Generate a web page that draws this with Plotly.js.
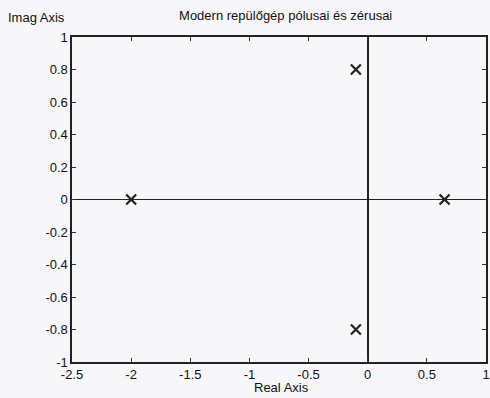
<!DOCTYPE html>
<html><head><meta charset="utf-8">
<script src="https://cdn.plot.ly/plotly-3.0.1.min.js"></script>
<style>body{margin:0;background:#f7f7f9}</style>
</head><body>
<div id="chart" style="width:490px;height:398px"></div>
<script>
const poleReal = [-2.0, 0.65, -0.1, -0.1];
const poleImag = [0, 0, 0.8, -0.8];
const xTicks = [-2.5, -2, -1.5, -1, -0.5, 0, 0.5, 1];
const yTicks = [-1, -0.8, -0.6, -0.4, -0.2, 0, 0.2, 0.4, 0.6, 0.8, 1];
const titleText = 'Modern repülőgép pólusai és zérusai';

const fontFam = 'Liberation Sans, Arial, sans-serif';
const txtColor = '#111';
const trace = {
  x: poleReal, y: poleImag, type: 'scatter', mode: 'markers',
  marker: {symbol: 'x-thin-open', size: 10, color: '#222', line: {width: 2.2, color: '#222'}},
  hoverinfo: 'none', showlegend: false
};
const axisCommon = {
  showgrid: false, zeroline: true, zerolinecolor: '#222', zerolinewidth: 1.8,
  showline: true, linecolor: '#222', linewidth: 1.6, mirror: 'ticks',
  ticks: 'inside', ticklen: 4, tickcolor: '#333', tickwidth: 1,
  tickfont: {family: fontFam, size: 13, color: txtColor}
};
const layout = {
  width: 490, height: 398,
  paper_bgcolor: '#f7f7f9', plot_bgcolor: '#f7f7f9',
  margin: {l: 72, r: 4, t: 37, b: 36},
  title: {text: titleText, font: {family: fontFam, size: 13, color: txtColor}, x: 0.583, xanchor: 'center', y: 0.96, yanchor: 'middle'},
  xaxis: Object.assign({}, axisCommon, {range: [-2.5, 1], tickvals: xTicks, ticktext: xTicks.map(String)}),
  yaxis: Object.assign({}, axisCommon, {range: [-1, 1], tickvals: yTicks, ticktext: yTicks.map(String)}),
  annotations: [
    {text: 'Imag Axis', xref: 'paper', yref: 'paper', x: -0.16, y: 1.06, xanchor: 'left', yanchor: 'middle', showarrow: false, font: {family: fontFam, size: 13, color: txtColor}},
    {text: 'Real Axis', xref: 'paper', yref: 'paper', x: 0.505, y: -0.078, xanchor: 'center', yanchor: 'middle', showarrow: false, font: {family: fontFam, size: 13, color: txtColor}}
  ]
};
Plotly.newPlot('chart', [trace], layout, {displayModeBar: false, staticPlot: true});
</script>
</body></html>
